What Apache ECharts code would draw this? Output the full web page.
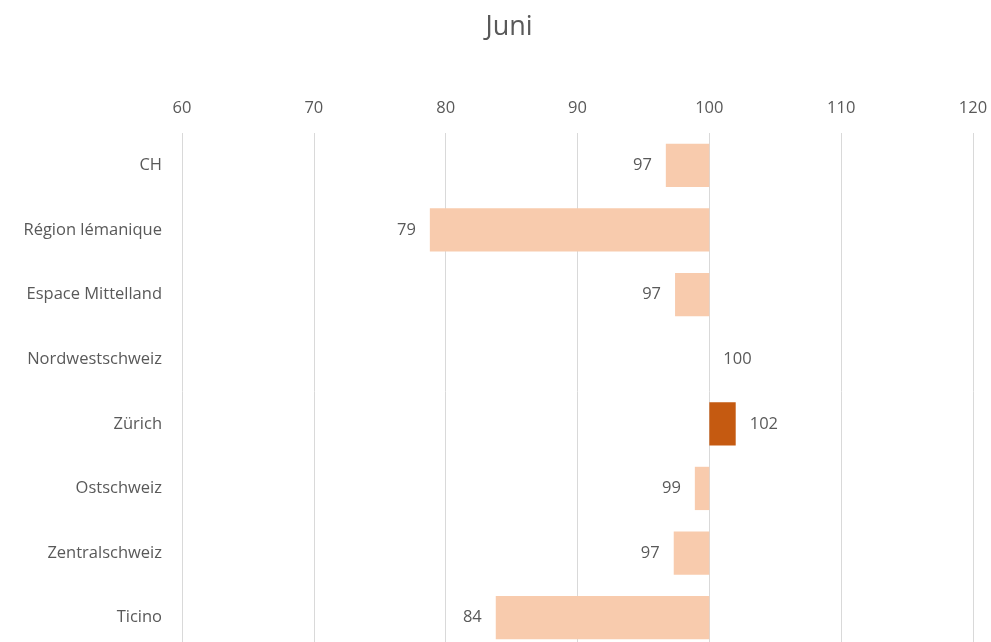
<!DOCTYPE html>
<html>
<head>
<meta charset="utf-8">
<script src="https://cdn.jsdelivr.net/npm/echarts@6/dist/echarts.min.js"></script>
<style>html,body{margin:0;padding:0;background:#fff;overflow:hidden;width:991px;height:642px}#c{width:991px;height:670px}</style>
</head>
<body>
<div id="c"></div>
<script>
var categories = ["CH","Région lémanique","Espace Mittelland","Nordwestschweiz","Zürich","Ostschweiz","Zentralschweiz","Ticino"];
var values = [96.7, 78.8, 97.4, 100.0, 102.0, 98.9, 97.3, 83.8];
var highlight = "Zürich";
var baseValue = 100;
var axisMin = 60, axisMax = 120, axisStep = 10;

var font = "'Open Sans', 'DejaVu Sans', sans-serif";
var txt = '#595959';
var light = '#F8CBAD', dark = '#C55A11';

var baseData = values.map(function(v){ return Math.min(v, baseValue); });
var deltaData = values.map(function(v, i){
  return {
    value: Math.abs(v - baseValue),
    itemStyle: { color: categories[i] === highlight ? dark : light },
    label: { position: v < baseValue ? 'left' : 'right' }
  };
});

var chart = echarts.init(document.getElementById('c'));
chart.setOption({
  animation: false,
  title: {
    text: 'Juni', left: 504, top: 9, textAlign: 'center',
    textStyle: { fontFamily: font, fontSize: 27, fontWeight: 'normal', color: txt }
  },
  grid: { left: 182, right: 18, top: 133, height: 517, containLabel: false },
  xAxis: {
    type: 'value', position: 'top', min: axisMin, max: axisMax, interval: axisStep,
    axisLine: { show: false }, axisTick: { show: false },
    axisLabel: { color: txt, fontFamily: font, fontSize: 16.5, margin: 16 },
    splitLine: { lineStyle: { color: '#D9D9D9', width: 1 } }
  },
  yAxis: {
    type: 'category', data: categories, inverse: true,
    axisLine: { show: false }, axisTick: { show: false },
    axisLabel: { color: txt, fontFamily: font, fontSize: 16.5, margin: 20, padding: [3, 0, 0, 0] }
  },
  series: [
    { type: 'bar', stack: 's', data: baseData, barWidth: '67%',
      itemStyle: { color: 'transparent' }, silent: true },
    { type: 'bar', stack: 's', data: deltaData, barWidth: '67%',
      label: { show: true, distance: 14, color: txt, fontFamily: font, fontSize: 16.5, padding: [3, 0, 0, 0],
        formatter: function(p){ return Math.round(values[p.dataIndex]); } } }
  ]
});
</script>
</body>
</html>
